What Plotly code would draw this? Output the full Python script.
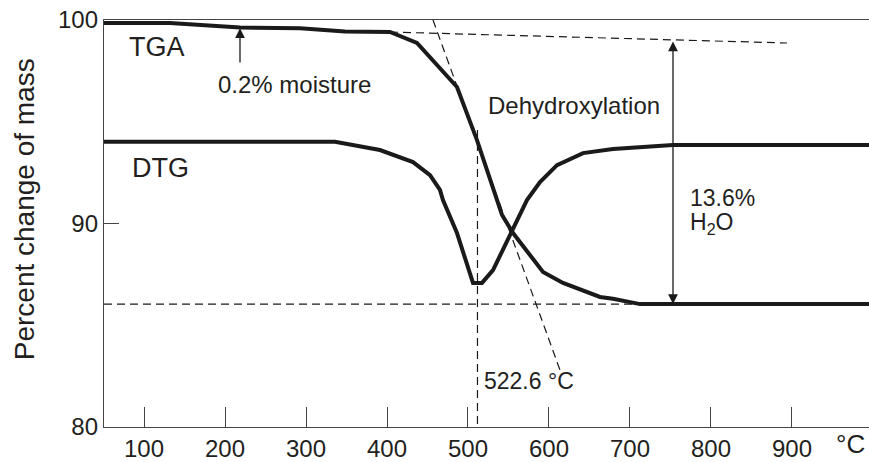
import plotly.graph_objects as go

# ---- data (temperature in °C, percent change of mass) ----
tga_temp = [50.6, 132, 218.5, 292.6, 348.1, 403.7, 437.0, 456.8, 486.4, 511.1, 530.9, 542.0,
            555.6, 592.6, 617.3, 663.0, 679.0, 712.4, 995.1]
tga_mass = [99.85, 99.85, 99.63, 99.59, 99.43, 99.41, 98.87, 98.03, 96.71, 94.10, 91.65, 90.42,
            89.53, 87.62, 87.08, 86.39, 86.30, 86.04, 86.04]

dtg_temp = [50.6, 335.8, 391.3, 432.1, 453.1, 465.4, 469.1, 486.4, 506.2, 517.3, 530.9, 554.3,
            572.8, 588.9, 609.9, 642.0, 679.0, 753.1, 995.1]
dtg_mass = [94.02, 94.02, 93.61, 93.02, 92.38, 91.65, 91.15, 89.53, 87.08, 87.08, 87.71, 89.58,
            91.15, 92.04, 92.87, 93.46, 93.66, 93.86, 93.86]

# construction (dashed) lines
final_base_temp = [50.6, 712.4]
final_base_mass = [86.04, 86.04]
peak_temp = [511.7, 511.7]
peak_mass = [94.6, 80.0]
tangent_temp = [456.8, 613.6]
tangent_mass = [100.0, 82.8]
top_base_temp = [403.7, 893.8]
top_base_mass = [99.41, 98.87]

# arrows
moist_arrow_temp = 218.5
moist_arrow_from, moist_arrow_to = 97.84, 99.60
loss_arrow_temp = 753.1
loss_arrow_top, loss_arrow_bottom = 99.02, 86.04

x_ticks = [100, 200, 300, 400, 500, 600, 700, 800, 900]
y_ticks = [80, 90, 100]

FONT = "Liberation Sans, Arial, Helvetica, sans-serif"
TXT = "#231f20"
LINE = "#1a1a1a"
AX = "#444444"

fig = go.Figure()
dash = dict(color=LINE, width=1.2, dash="8px,5px")
for xs, ys in [(final_base_temp, final_base_mass), (peak_temp, peak_mass),
               (tangent_temp, tangent_mass), (top_base_temp, top_base_mass)]:
    fig.add_trace(go.Scatter(x=xs, y=ys, mode="lines", line=dash, hoverinfo="skip"))

fig.add_trace(go.Scatter(x=tga_temp, y=tga_mass, mode="lines", name="TGA",
                         line=dict(color=LINE, width=4)))
fig.add_trace(go.Scatter(x=dtg_temp, y=dtg_mass, mode="lines", name="DTG",
                         line=dict(color=LINE, width=4)))

fig.update_layout(
    width=869, height=462,
    margin=dict(l=104, r=0, t=20, b=35),
    plot_bgcolor="white", paper_bgcolor="white",
    showlegend=False,
    font=dict(family=FONT, color=TXT, size=22),
)
fig.update_xaxes(range=[50.6, 995.1], tickvals=x_ticks, ticks="inside", ticklen=20,
                 tickwidth=1.2, tickcolor=AX, showline=True, linecolor=AX, linewidth=1.3,
                 mirror=True, showgrid=False, zeroline=False, ticklabeloverflow="allow",
                 tickfont=dict(size=24, family=FONT, color=TXT))
fig.update_yaxes(range=[80, 100], tickvals=y_ticks, ticks="inside", ticklen=15,
                 tickwidth=1.2, tickcolor=AX, showline=True, linecolor=AX, linewidth=1.3,
                 showgrid=False, zeroline=False, ticklabeloverflow="allow",
                 tickfont=dict(size=24, family=FONT, color=TXT))

def txt(x, y, s, size=22, xanchor="left", **kw):
    fig.add_annotation(x=x, y=y, text=s, showarrow=False, xanchor=xanchor, yanchor="middle",
                       font=dict(size=size, family=FONT, color=TXT), **kw)

txt(79.0, 98.67, "TGA", size=27)
txt(82.7, 92.73, "DTG", size=27)
txt(189, 96.81, "0.2% moisture", size=24)
txt(522, 95.82, "Dehydroxylation", size=24)
txt(771.6, 91.25, "13.6%", size=23)
txt(771.6, 90.0, "H<sub>2</sub>O", size=23)
txt(517.3, 82.26, "522.6 °C", size=23)

# axis unit and y title
fig.add_annotation(xref="paper", yref="paper", x=0.998, y=-0.042, text="°C",
                   showarrow=False, xanchor="right", yanchor="middle",
                   font=dict(size=26, family=FONT, color=TXT))
fig.add_annotation(xref="paper", yref="paper", x=(24 - 104) / 765, y=0.535,
                   text="Percent change of mass", textangle=-90, showarrow=False,
                   xanchor="center", yanchor="middle",
                   font=dict(size=28, family=FONT, color=TXT))

# arrows
fig.add_annotation(x=moist_arrow_temp, y=moist_arrow_to, ax=moist_arrow_temp, ay=moist_arrow_from,
                   xref="x", yref="y", axref="x", ayref="y", text="", showarrow=True,
                   arrowhead=2, arrowsize=1.5, arrowwidth=1.3, arrowcolor=LINE, standoff=0)
fig.add_annotation(x=loss_arrow_temp, y=loss_arrow_bottom, ax=loss_arrow_temp, ay=loss_arrow_top,
                   xref="x", yref="y", axref="x", ayref="y", text="", showarrow=True,
                   arrowhead=2, startarrowhead=2, arrowside="end+start",
                   arrowsize=1.5, startarrowsize=1.5, arrowwidth=1.3, arrowcolor=LINE,
                   standoff=0, startstandoff=0)

# remove the default page margin so the 869x462 figure fills the window exactly
fig.write_html("out.html", config={"displayModeBar": False},
               post_script="document.body.style.margin='0';document.body.style.overflow='hidden';")
